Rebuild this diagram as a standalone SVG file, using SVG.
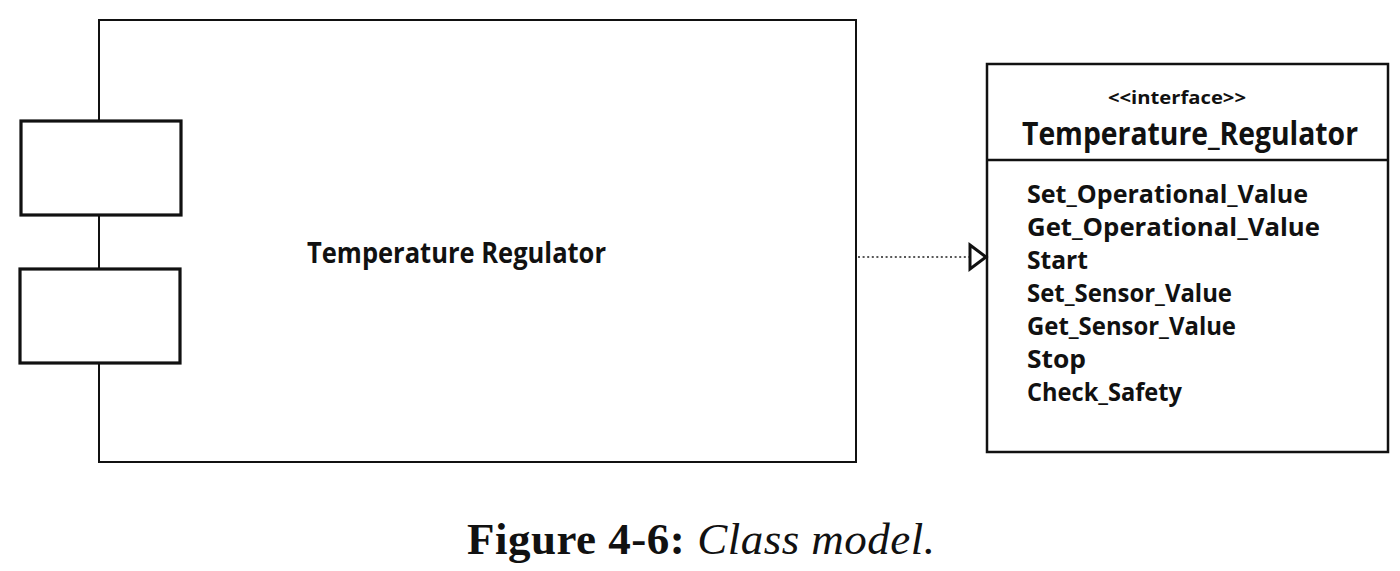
<svg xmlns="http://www.w3.org/2000/svg" width="1400" height="571" viewBox="0 0 1400 571">
<style>
.bg{fill:#fff}
.frame{fill:none;stroke:#111;stroke-width:2}
.port{fill:#fff;stroke:#111;stroke-width:3.2}
.iface{fill:#fff;stroke:#111;stroke-width:2.5}
.sans{font-family:"Open Sans","Noto Sans","Liberation Sans",sans-serif;font-weight:bold;fill:#111}
.op{font-size:25px}
.conn{fill:none;stroke:#222;stroke-width:1.6;stroke-dasharray:2 2.6}
.head{fill:#fff;stroke:#111;stroke-width:3;stroke-linejoin:miter}
.cap{font-family:"Liberation Serif","Times New Roman",serif;font-size:45px;fill:#111}
</style>
<rect class="bg" x="0" y="0" width="1400" height="571"/>
<g id="component">
<rect class="frame" x="99" y="20" width="757" height="442"/>
<text class="sans" x="307" y="263" font-size="28" textLength="299" lengthAdjust="spacingAndGlyphs">Temperature Regulator</text>
</g>
<g id="port1">
<rect class="port" x="21" y="121" width="160" height="94"/>
</g>
<g id="port2">
<rect class="port" x="20" y="269" width="160" height="94"/>
</g>
<g id="interface">
<rect class="iface" x="987" y="64" width="401" height="388"/>
<line class="iface" x1="987" y1="160" x2="1388" y2="160"/>
<text class="sans" x="1177" y="104" font-size="17" text-anchor="middle" textLength="138" lengthAdjust="spacingAndGlyphs">&lt;&lt;interface&gt;&gt;</text>
<text class="sans" x="1022" y="145" font-size="32" textLength="336" lengthAdjust="spacingAndGlyphs">Temperature_Regulator</text>
<text class="sans op" x="1027" y="203" textLength="281" lengthAdjust="spacingAndGlyphs">Set_Operational_Value</text>
<text class="sans op" x="1027" y="236" textLength="293" lengthAdjust="spacingAndGlyphs">Get_Operational_Value</text>
<text class="sans op" x="1027" y="269" textLength="61" lengthAdjust="spacingAndGlyphs">Start</text>
<text class="sans op" x="1027" y="302" textLength="205" lengthAdjust="spacingAndGlyphs">Set_Sensor_Value</text>
<text class="sans op" x="1027" y="335" textLength="209" lengthAdjust="spacingAndGlyphs">Get_Sensor_Value</text>
<text class="sans op" x="1027" y="368" textLength="59" lengthAdjust="spacingAndGlyphs">Stop</text>
<text class="sans op" x="1027" y="401" textLength="155" lengthAdjust="spacingAndGlyphs">Check_Safety</text>
</g>
<g id="connectors">
<line class="conn" x1="858" y1="257" x2="969" y2="257"/>
<polygon class="head" points="970,245 986,257 970,269"/>
</g>
<g id="caption">
<text class="cap" x="467" y="554" textLength="468" lengthAdjust="spacing"><tspan font-weight="bold">Figure 4-6:</tspan><tspan font-style="italic" dx="12">Class model.</tspan></text>
</g>
</svg>
